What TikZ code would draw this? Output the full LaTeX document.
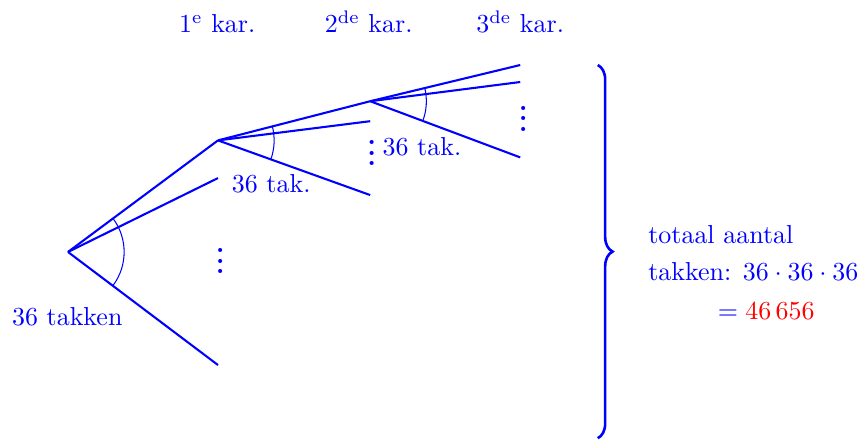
\documentclass[tikz,border=0pt]{standalone}
\usepackage{xcolor}
\usepackage{amsmath}
\usepackage{tikz}
\usetikzlibrary{angles,decorations.pathreplacing}

\begin{document}
\begin{tikzpicture}[
    branch/.style={blue, thick},
    hoek/.style={draw, blue, angle radius=0.76cm},
    lbl/.style={text=blue},
    puntjes/.style={text=blue, font=\bfseries, inner sep=0pt, anchor=south}
]
\useasboundingbox (0,0) rectangle (11.72,5.97);

% vertakkingspunten
\coordinate (root) at (0.92,2.56);
\coordinate (a1) at (2.95,4.07);
\coordinate (a2) at (2.95,3.56);
\coordinate (a3) at (2.95,1.03);
\coordinate (b1) at (5.01,4.60);
\coordinate (b2) at (5.01,4.33);
\coordinate (b3) at (5.01,3.33);
\coordinate (c1) at (7.04,5.09);
\coordinate (c2) at (7.04,4.86);
\coordinate (c3) at (7.04,3.84);

\draw[branch] (root) -- (a1);
\draw[branch] (root) -- (a2);
\draw[branch] (root) -- (a3);
\draw[branch] (a1) -- (b1);
\draw[branch] (a1) -- (b2);
\draw[branch] (a1) -- (b3);
\draw[branch] (b1) -- (c1);
\draw[branch] (b1) -- (c2);
\draw[branch] (b1) -- (c3);

\pic[hoek] {angle=a3--root--a1};
\pic[hoek] {angle=b3--a1--b1};
\pic[hoek] {angle=c3--b1--c1};

\node[puntjes] (dots1) at (2.98,2.26) {$\vdots$};
\node[puntjes] (dots2) at (5.03,3.72) {$\vdots$};
\node[puntjes] (dots3) at (7.08,4.19) {$\vdots$};

\node[lbl] (tak1) at (0.91,1.68) {36 takken};
\node[lbl] (tak2) at (3.67,3.48) {36 tak.};
\node[lbl] (tak3) at (5.71,3.99) {36 tak.};

\node[lbl, anchor=base] (kar1) at (2.94,5.53) {$1^{\mathrm{e}}$ kar.};
\node[lbl, anchor=base] (kar2) at (4.99,5.53) {$2^{\mathrm{de}}$ kar.};
\node[lbl, anchor=base] (kar3) at (7.04,5.53) {$3^{\mathrm{de}}$ kar.};

% accolade en totaal
\coordinate (top) at (8.09,5.09);
\coordinate (bottom) at (8.09,0.04);
\draw[blue, line width=1pt, decorate, decoration={brace, amplitude=0.2cm}] (top) -- (bottom);

\node[lbl, anchor=base west] (tot1) at (8.65,2.68) {totaal aantal};
\node[lbl, anchor=base west] (tot2) at (8.65,2.18) {takken: $36\cdot 36\cdot 36$};
\node[lbl, anchor=base] (tot3) at (10.37,1.65) {$= {\color{red}46\,656}$};
\end{tikzpicture}
\end{document}
